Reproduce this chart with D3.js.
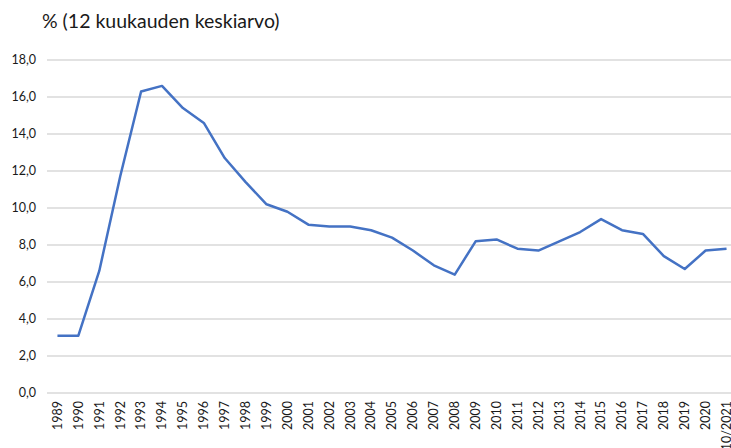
<!DOCTYPE html>
<html><head><meta charset="utf-8">
<script src="https://cdn.jsdelivr.net/npm/d3@7"></script>
<style>body{margin:0;background:#fff}svg{display:block}</style>
</head><body>
<script>
const categories = ["1989","1990","1991","1992","1993","1994","1995","1996","1997","1998","1999","2000","2001","2002","2003","2004","2005","2006","2007","2008","2009","2010","2011","2012","2013","2014","2015","2016","2017","2018","2019","2020","10/2021"];
const values = [3.1,3.1,6.6,11.7,16.3,16.6,15.4,14.6,12.7,11.4,10.2,9.8,9.1,9.0,9.0,8.8,8.4,7.7,6.9,6.4,8.2,8.3,7.8,7.7,8.2,8.7,9.4,8.8,8.6,7.4,6.7,7.7,7.8];
const yTicks = [0,2,4,6,8,10,12,14,16,18];
const title = "% (12 kuukauden keskiarvo)";

const W = 731, H = 448;
const svg = d3.select("body").append("svg").attr("width", W).attr("height", H);
const font = "Lato, 'Open Sans', sans-serif";

const x = d3.scaleBand().domain(categories).range([47, 737]);
const y = d3.scaleLinear().domain([0, 18]).range([393, 60]);

svg.append("text").attr("x", 42).attr("y", 28).attr("font-family", font)
  .attr("font-size", 19.5).attr("fill", "#1a1a1a").text(title);

// gridlines
svg.append("g").selectAll("line").data(yTicks).join("line")
  .attr("x1", 47).attr("x2", 737)
  .attr("y1", d => y(d)).attr("y2", d => y(d))
  .attr("stroke", "#d9d9d9").attr("stroke-width", 1.5);

// y labels
svg.append("g").selectAll("text").data(yTicks).join("text")
  .attr("x", 36).attr("y", d => y(d)).attr("dy", "0.35em")
  .attr("text-anchor", "end").attr("font-family", font).attr("font-size", 12.5).attr("fill", "#1a1a1a")
  .text(d => d3.format(".1f")(d).replace(".", ","));

// x labels
svg.append("g").selectAll("text").data(categories).join("text")
  .attr("transform", d => `translate(${x(d) + x.bandwidth()/2},401) rotate(-90)`)
  .attr("dy", "0.35em").attr("text-anchor", "end")
  .attr("font-family", font).attr("font-size", 12.5).attr("fill", "#1a1a1a")
  .text(d => d);

const line = d3.line().x((d, i) => x(categories[i]) + x.bandwidth()/2).y(d => y(d));
svg.append("path").datum(values).attr("d", line)
  .attr("fill", "none").attr("stroke", "#4472C4").attr("stroke-width", 2.5)
  .attr("stroke-linejoin", "round");
</script>
</body></html>
